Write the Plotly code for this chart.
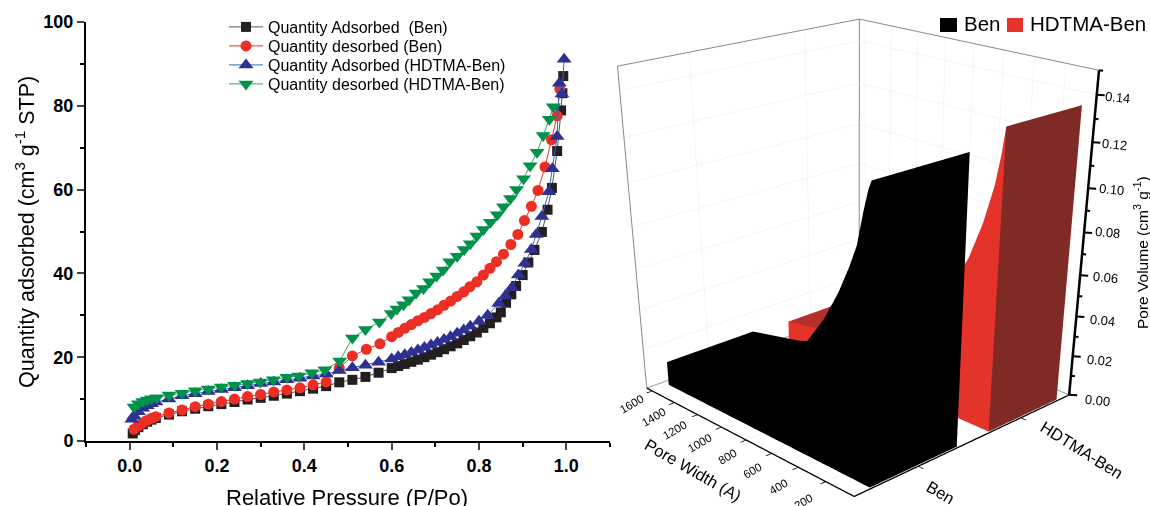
import plotly.graph_objects as go
import numpy as np

# ---------- isotherm data ----------
ads_ben_x = [.007,.012,.02,.03,.04,.05,.06,.09,.12,.15,.18,.21,.24,.27,.30,.33,.36,.39,.42,.45,.48,.51,.54,.57,.60,.615,.63,.645,.66,.675,.69,.705,.72,.735,.75,.765,.78,.795,.81,.825,.84,.85,.862,.874,.885,.90,.913,.927,.944,.957,.967,.979,.988,.991,.993]
ads_ben_y = [1.8,2.6,3.3,4.0,4.6,5.1,5.5,6.3,7.1,7.7,8.3,8.8,9.3,9.9,10.3,10.8,11.3,11.9,12.5,13.1,14.0,14.6,15.3,16.3,17.4,17.9,18.4,18.9,19.4,20.0,20.6,21.2,21.9,22.6,23.3,24.1,25.0,25.9,27.0,28.1,29.5,30.7,33.0,35.0,37.0,39.6,42.6,45.6,49.9,55.2,60.4,69.2,78.9,83.0,87.1]
des_ben_x = [.985,.979,.966,.951,.935,.92,.904,.889,.873,.856,.84,.825,.81,.795,.779,.765,.75,.735,.72,.705,.69,.675,.66,.645,.63,.615,.60,.573,.542,.51,.48,.45,.42,.39,.36,.33,.30,.27,.24,.21,.18,.15,.12,.09,.06,.05,.04,.03,.02,.01]
des_ben_y = [84.0,77.6,71.9,65.4,59.8,56.0,52.6,49.3,46.9,44.6,42.8,41.2,39.6,38.0,36.8,35.6,34.5,33.4,32.4,31.3,30.4,29.5,28.7,27.8,26.9,25.9,24.9,23.2,21.9,20.3,17.4,14.1,13.4,12.7,12.2,11.7,11.1,10.6,10.0,9.4,8.8,8.2,7.4,6.7,5.8,5.4,4.9,4.3,3.6,2.8]
ads_hd_x = [.005,.01,.02,.03,.04,.05,.06,.09,.12,.15,.18,.21,.24,.27,.30,.33,.36,.39,.42,.45,.48,.51,.54,.57,.60,.615,.63,.645,.66,.675,.69,.705,.72,.735,.75,.765,.78,.80,.82,.845,.86,.875,.89,.905,.92,.931,.944,.96,.968,.979,.984,.99,.995]
ads_hd_y = [5.2,6.0,7.0,7.8,8.4,8.9,9.3,10.0,10.8,11.3,11.8,12.3,12.7,13.2,13.7,14.1,14.6,15.0,15.5,16.0,16.8,17.5,18.1,18.8,19.6,20.1,20.6,21.1,21.7,22.3,22.9,23.5,24.2,24.9,25.7,26.5,27.4,28.6,30.0,32.8,34.6,36.6,39.6,42.4,45.7,49.3,53.6,59.5,65.0,72.7,85.4,82.8,91.1]
des_hd_x = [.97,.961,.947,.933,.917,.902,.886,.872,.856,.842,.826,.81,.795,.78,.766,.75,.733,.718,.703,.687,.673,.656,.64,.627,.612,.599,.572,.54,.51,.481,.447,.417,.387,.36,.329,.299,.27,.24,.21,.18,.15,.12,.09,.062,.05,.04,.03,.02,.01]
des_hd_y = [79.8,76.8,72.9,68.9,65.7,62.6,60.0,57.9,55.9,54.0,52.2,50.5,48.9,47.1,45.7,44.1,42.8,40.8,39.4,38.0,36.4,35.3,33.7,32.5,31.5,30.4,28.4,26.6,24.6,19.1,17.0,16.3,15.5,15.2,14.6,14.1,13.7,13.3,12.9,12.4,12.0,11.4,11.0,10.3,10.1,9.8,9.4,8.9,8.1]

# ---------- pore distribution data ----------
width_ben = [10,30,60,100,150,220,320,450,600,800,1000,1200,1400,1600]
vol_ben = [.131,.127,.118,.104,.094,.082,.068,.054,.04,.03,.023,.018,.015,.012]
width_hd = [10,30,60,120,200,320,450,600,800,1000,1200,1400,1570]
vol_hd = [.137,.125,.112,.095,.078,.06,.047,.036,.026,.02,.017,.014,.012]
sample_names = ["Ben", "HDTMA-Ben"]
sample_ticks = [.27, .75]
sample_span = [(.07, .45), (.60, .94)]
width_ticks = [200,400,600,800,1000,1200,1400,1600]
vol_ticks = [0,.02,.04,.06,.08,.10,.12,.14]

# ---------- 3D view ----------
ex, ey, ez, cz = -2.131, -2.237, 1.081, -.904
ax, ay, az = .730, .749, .770
H, Cx = 1136, 856.847   # taller canvas, only the top 506 px lie in the window
YMAX, ZMAX = 1650, .15

def proj(pt):
    E = np.array([ex, ey, ez]); f = np.array([0, 0, cz]) - E; f = f/np.linalg.norm(f)
    r = np.cross(f, [0, 0, 1]); r = r/np.linalg.norm(r); u = np.cross(r, f)
    P = (np.array(pt, float)-.5)*np.array([ax, ay, az])-E
    d = P @ f; F = H/2/np.tan(np.pi/8)
    return Cx+F*(P @ r)/d, H/2-F*(P @ u)/d

FONT = "Liberation Sans"
fig = go.Figure()

series = [
    ("Quantity Adsorbed  (Ben)", ads_ben_x, ads_ben_y, "#231f20", "#555555", "square", 10, "legend"),
    ("Quantity desorbed (Ben)", des_ben_x, des_ben_y, "#ed2e24", "#ed2e24", "circle", 11, "legend2"),
    ("Quantity Adsorbed (HDTMA-Ben)", ads_hd_x, ads_hd_y, "#2e3192", "#2f6db5", "triangle-up", 13, "legend3"),
    ("Quantity desorbed (HDTMA-Ben)", des_hd_x, des_hd_y, "#00914a", "#30a868", "triangle-down", 13, "legend4"),
]
for name, xs, ys, col, lc, sym, sz, lg in series:
    fig.add_trace(go.Scatter(x=xs, y=ys, name=name, mode="lines+markers", legend=lg,
                             line=dict(color=lc, width=1),
                             marker=dict(color=col, symbol=sym, size=sz)))

def ribbon(x0, x1, w, v, side, cap, top):
    n = len(w)
    X, Y, Z, I, J, K, C = [], [], [], [], [], [], []
    for a, b in zip(w, v):
        X += [x0, x0, x1, x1]; Y += [a]*4; Z += [0, b, b, 0]
    def quad(p, q, r, s, col):
        I.extend([p, p]); J.extend([q, r]); K.extend([r, s]); C.extend([col, col])
    for i in range(n-1):
        a, b = 4*i, 4*(i+1)
        quad(a, a+1, b+1, b, side)
        quad(a+1, a+2, b+2, b+1, top)
        quad(a+3, a+2, b+2, b+3, side)
    quad(0, 1, 2, 3, cap)
    e = 4*(n-1)
    quad(e, e+1, e+2, e+3, side)
    return go.Mesh3d(x=X, y=Y, z=Z, i=I, j=J, k=K, facecolor=C, flatshading=True,
                     lighting=dict(ambient=1, diffuse=0, specular=0, roughness=1, fresnel=0),
                     hoverinfo="skip", showscale=False, scene="scene")

fig.add_trace(ribbon(*sample_span[0], width_ben, vol_ben, "#000000", "#000000", "#000000"))
fig.add_trace(ribbon(*sample_span[1], width_hd, vol_hd, "#e6332a", "#7f2a24", "#b5302a"))

frame = [((0,YMAX,ZMAX),(1,YMAX,ZMAX)),((1,YMAX,ZMAX),(1,0,ZMAX)),
         ((0,YMAX,0),(0,YMAX,ZMAX)),((1,YMAX,0),(1,YMAX,ZMAX)),((0,YMAX,0),(1,YMAX,0)),((1,YMAX,0),(1,0,0))]
fx, fy, fz = [], [], []
for a, b in frame:
    fx += [a[0], b[0], None]; fy += [a[1], b[1], None]; fz += [a[2], b[2], None]
fig.add_trace(go.Scatter3d(x=fx, y=fy, z=fz, mode="lines", line=dict(color="#8a8a8a", width=2),
                           hoverinfo="skip", showlegend=False, scene="scene"))

axcommon = dict(showbackground=False, gridcolor="#ebebeb", gridwidth=1, showticklabels=False,
                title=dict(text=""), zeroline=False, showspikes=False, showline=True,
                linecolor="#000000", linewidth=3, ticks="outside", tickcolor="#000000",
                ticklen=6, tickwidth=2)
lg = lambda top: dict(x=224/1150, y=1-top/H, xanchor="left", yanchor="top", font=dict(size=16, family=FONT),
                      itemwidth=34, bgcolor="rgba(0,0,0,0)", itemclick=False, itemdoubleclick=False)
fig.update_layout(
    width=1150, height=H, margin=dict(l=0, r=0, t=0, b=0, autoexpand=False),
    paper_bgcolor="white", plot_bgcolor="white", font=dict(family=FONT, color="#000000"),
    xaxis=dict(domain=[86/1150, 610/1150], range=[-.1, 1.1], tickvals=[0,.2,.4,.6,.8,1.0],
               ticktext=["0.0","0.2","0.4","0.6","0.8","1.0"], ticks="outside", ticklen=7, tickwidth=2,
               showline=True, linewidth=2, linecolor="#000", showgrid=False, zeroline=False, anchor="y",
               minor=dict(dtick=.1, ticks="outside", ticklen=4, tickwidth=2, tickcolor="#000"),
               tickfont=dict(size=18, family=FONT, weight="bold")),
    yaxis=dict(domain=[1-441/H, 1-22/H], range=[0, 100], tickvals=[0,20,40,60,80,100],
               ticks="outside", ticklen=7, tickwidth=2,
               showline=True, linewidth=2, linecolor="#000", showgrid=False, zeroline=False, anchor="x",
               minor=dict(dtick=10, ticks="outside", ticklen=4, tickwidth=2, tickcolor="#000"),
               tickfont=dict(size=18, family=FONT, weight="bold")),
    legend=lg(10), legend2=lg(29), legend3=lg(48), legend4=lg(67),
    scene=dict(domain=dict(x=[max(0,(2*Cx-1150)/1150), 1], y=[0, 1]),
               xaxis=dict(axcommon, range=[0, 1], tickvals=sample_ticks),
               yaxis=dict(axcommon, range=[0, YMAX], tickvals=width_ticks),
               zaxis=dict(axcommon, range=[0, ZMAX], tickvals=vol_ticks, showline=False, ticks=""),
               aspectmode="manual", aspectratio=dict(x=ax, y=ay, z=az),
               camera=dict(eye=dict(x=ex, y=ey, z=ez), center=dict(x=0, y=0, z=cz),
                           projection=dict(type="perspective"))),
    hovermode=False,
)

def text(s, px, py, size, angle=0, **kw):
    fig.add_annotation(text=s, xref="paper", yref="paper", x=px/1150, y=1-py/H, showarrow=False,
                       font=dict(size=size, family=FONT, color="#000"), textangle=angle,
                       xanchor="center", yanchor="middle", **kw)
def pxline(x0, y0, x1, y1, w=2):
    fig.add_shape(type="line", xref="paper", yref="paper", x0=x0/1150, x1=x1/1150, y0=1-y0/H, y1=1-y1/H,
                  line=dict(color="#000", width=w))

# value axis on the right edge, placed with the scene's own projection
zb = proj((1,0,0)); zt = proj((1,0,1))
pxline(zb[0], zb[1], zt[0], zt[1], 2.5)
for i in range(16):
    pt = proj((1,0,i/15))
    pxline(pt[0], pt[1], pt[0]+(8 if i % 2 == 0 else 4), pt[1]+.5, 2)

text("Relative Pressure (P/Po)", 347, 497, 22)
text("Quantity adsorbed (cm<sup>3</sup> g<sup>-1</sup> STP)", 25, 232, 21.5, -90)
width_pos = [(803,502),(778,487),(752,471),(727,457),(700,443),(675,430),(654,417),(632,404)]
for t, pos in zip(width_ticks, width_pos):
    text(str(t), pos[0], pos[1], 11.5, -30)
vol_pos = [(1097,400),(1099,360),(1102,320),(1105,277),(1107,233),(1111,190),(1114,144),(1117,98)]
for t, pos in zip(vol_ticks, vol_pos):
    text(f"{t:.2f}", pos[0], pos[1], 13, 6)
text("Pore Width (A)", 693, 470, 16.5, 30)
text(sample_names[0], 940, 492, 16.5, 30)
text(sample_names[1], 1082, 450, 16.5, 32)
text("Pore Volume (cm<sup>3</sup> g<sup>-1</sup>)", 1141, 253, 15.5, -90)
text(sample_names[0], 982, 24, 20.5)
text(sample_names[1], 1088, 24, 20.5)
fig.add_shape(type="rect", xref="paper", yref="paper", x0=940/1150, x1=957/1150, y0=1-32/H, y1=1-18/H,
              fillcolor="#000", line_width=0)
fig.add_shape(type="rect", xref="paper", yref="paper", x0=1007/1150, x1=1023/1150, y0=1-32/H, y1=1-18/H,
              fillcolor="#e6332a", line_width=0)

fig.write_html("out.html", config=dict(displayModeBar=False),
               post_script="document.body.style.margin='0';document.body.style.overflow='hidden';document.documentElement.style.overflow='hidden';")
